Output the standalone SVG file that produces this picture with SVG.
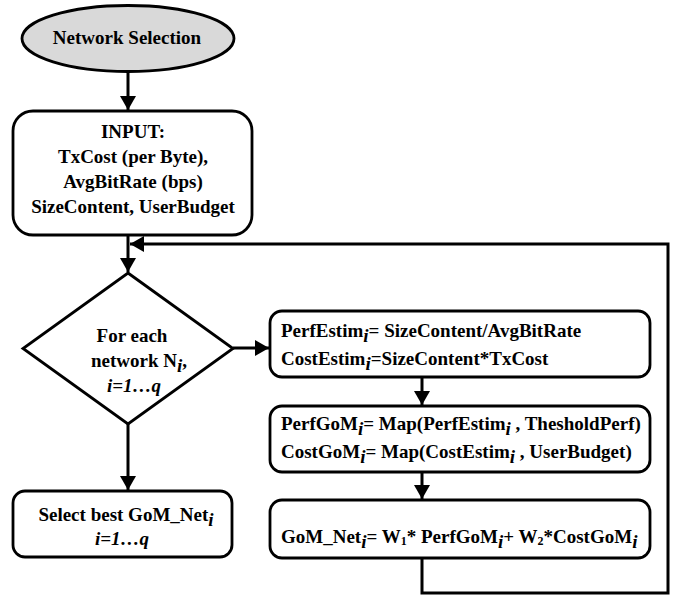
<svg xmlns="http://www.w3.org/2000/svg" width="673" height="595" viewBox="0 0 673 595">
<style>
  .shape { fill: #ffffff; stroke: #000000; stroke-width: 2.8; }
  .start { fill: #d9d9d9; stroke: #000000; stroke-width: 2.8; }
  .t { font-family: "Liberation Serif", "Times New Roman", serif; font-weight: bold; font-size: 19px; fill: #000000; }
  .mid { text-anchor: middle; }
  .it { font-style: italic; }
  .sm { font-size: 12px; }
  .conn { fill: none; stroke: #000000; stroke-width: 3; }
</style>
<defs>
  <marker id="arrow" markerUnits="userSpaceOnUse" markerWidth="16" markerHeight="16" refX="14" refY="8" orient="auto">
    <path d="M0,0 L14,8 L0,16 z" fill="#000000"/>
  </marker>
</defs>
<rect width="673" height="595" fill="#ffffff"/>

<g id="connectors">
  <path class="conn" d="M128,72 L128,110" marker-end="url(#arrow)"/>
  <path class="conn" d="M128,235 L128,272" marker-end="url(#arrow)"/>
  <path class="conn" d="M233,348 L269,348" marker-end="url(#arrow)"/>
  <path class="conn" d="M128,424 L128,490" marker-end="url(#arrow)"/>
  <path class="conn" d="M422,377 L422,405" marker-end="url(#arrow)"/>
  <path class="conn" d="M422,472 L422,499" marker-end="url(#arrow)"/>
  <path class="conn" d="M422,558 L422,593 L668,593 L668,244 L130,244" marker-end="url(#arrow)"/>
</g>

<g id="start">
  <ellipse class="start" cx="128" cy="38.5" rx="106" ry="33"/>
  <text class="t mid" x="127" y="44">Network Selection</text>
</g>

<g id="input">
  <rect class="shape" x="13" y="111" width="239" height="124" rx="20" ry="20"/>
  <text class="t mid" x="133" y="138">INPUT:</text>
  <text class="t mid" x="133" y="163">TxCost (per Byte),</text>
  <text class="t mid" x="133" y="188">AvgBitRate (bps)</text>
  <text class="t mid" x="133" y="213">SizeContent, UserBudget</text>
</g>

<g id="decision">
  <polygon class="shape" points="128,273 233,348.5 128,424 23,348.5"/>
  <text class="t mid" x="132" y="342">For each</text>
  <text class="t mid" x="139" y="367">network N<tspan class="it" dy="5">i</tspan><tspan dy="-5">,</tspan></text>
  <text class="t mid it" x="134" y="392">i=1…q</text>
</g>

<g id="select">
  <rect class="shape" x="13" y="491" width="219" height="66" rx="12" ry="12"/>
  <text class="t mid" x="126" y="521">Select best GoM_Net<tspan class="it" dy="5">i</tspan></text>
  <text class="t mid it" x="122" y="545">i=1…q</text>
</g>

<g id="estim">
  <rect class="shape" x="270" y="311" width="380" height="66" rx="12" ry="12"/>
  <text class="t" x="281" y="337">PerfEstim<tspan class="it" dy="5">i</tspan><tspan dy="-5">= SizeContent/AvgBitRate</tspan></text>
  <text class="t" x="281" y="365">CostEstim<tspan class="it" dy="5">i</tspan><tspan dy="-5">=SizeContent*TxCost</tspan></text>
</g>

<g id="gom">
  <rect class="shape" x="270" y="406" width="380" height="66" rx="12" ry="12"/>
  <text class="t" x="281" y="430">PerfGoM<tspan class="it" dy="5">i</tspan><tspan dy="-5">= Map(PerfEstim</tspan><tspan class="it" dy="5">i </tspan><tspan dy="-5">, ThesholdPerf)</tspan></text>
  <text class="t" x="281" y="458">CostGoM<tspan class="it" dy="5">i</tspan><tspan dy="-5">= Map(CostEstim</tspan><tspan class="it" dy="5">i </tspan><tspan dy="-5">, UserBudget)</tspan></text>
</g>

<g id="gomnet">
  <rect class="shape" x="270" y="500" width="380" height="58" rx="12" ry="12"/>
  <text class="t" x="281" y="543">GoM_Net<tspan class="it" dy="5">i</tspan><tspan dy="-5">= W</tspan><tspan class="sm" dy="2">1</tspan><tspan dy="-2">* PerfGoM</tspan><tspan class="it" dy="5">i</tspan><tspan dy="-5">+ W</tspan><tspan class="sm" dy="2">2</tspan><tspan dy="-2">*CostGoM</tspan><tspan class="it" dy="5">i</tspan></text>
</g>
</svg>
